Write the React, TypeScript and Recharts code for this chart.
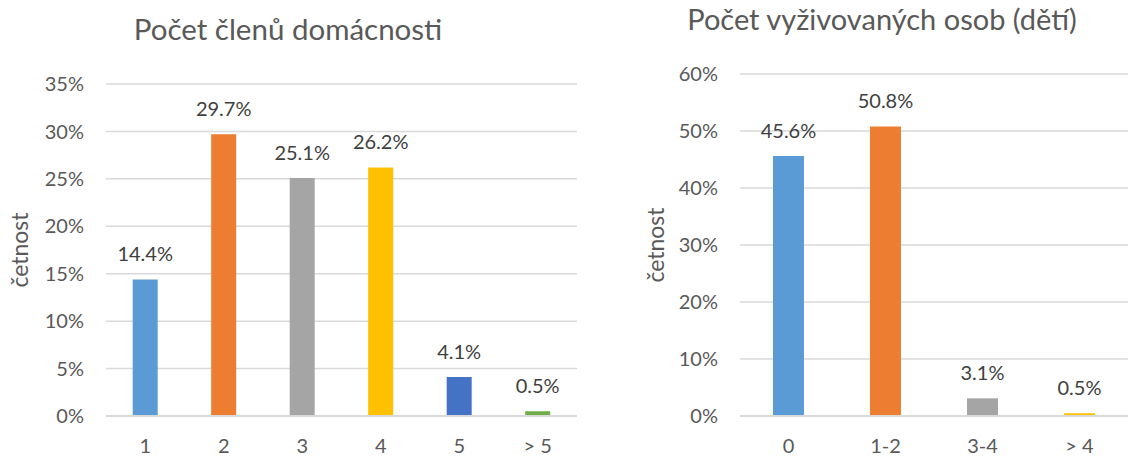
import { BarChart, Bar, XAxis, YAxis, CartesianGrid, Cell, LabelList } from 'recharts'

const householdSizes = ['1', '2', '3', '4', '5', '> 5']
const householdShare = [14.4, 29.7, 25.1, 26.2, 4.1, 0.5]
const householdColors = ['#5B9BD5', '#ED7D31', '#A5A5A5', '#FFC000', '#4472C4', '#70AD47']
const householdTicks = [0, 5, 10, 15, 20, 25, 30, 35]

const childCounts = ['0', '1-2', '3-4', '> 4']
const childShare = [45.6, 50.8, 3.1, 0.5]
const childColors = ['#5B9BD5', '#ED7D31', '#A5A5A5', '#FFC000']
const childTicks = [0, 10, 20, 30, 40, 50, 60]

const FONT = 'Lato, "Open Sans", sans-serif'
const TEXT = '#595959'
const GRID = '#D9D9D9'

interface PanelProps {
  title: string
  categories: string[]
  values: number[]
  colors: string[]
  ticks: number[]
  left: number
  width: number
  yAxisWidth: number
  marginRight: number
  plotTop: number
  titleTop: number
  titleCenter: number
  titleSize: number
  axisLabelX: number
}

function Panel(p: PanelProps) {
  const data = p.categories.map((name, i) => ({ name, value: p.values[i] }))
  const plotMid = (p.plotTop + 416) / 2

  return (
    <div style={{ position: 'absolute', left: p.left, top: 0, width: p.width, height: 457 }}>
      <BarChart
        width={p.width}
        height={457}
        data={data}
        barCategoryGap="34%"
        margin={{ top: p.plotTop, right: p.marginRight, left: 0, bottom: 11 }}
      >
        <CartesianGrid vertical={false} stroke={GRID} strokeWidth={1.5} />
        <XAxis
          dataKey="name"
          height={30}
          tickLine={false}
          tickSize={0}
          tickMargin={23}
          axisLine={{ stroke: GRID, strokeWidth: 2 }}
          tick={{ fontSize: 20, fill: TEXT, fontFamily: FONT }}
        />
        <YAxis
          width={p.yAxisWidth}
          domain={[p.ticks[0], p.ticks[p.ticks.length - 1]]}
          ticks={p.ticks}
          tickFormatter={(v: number) => `${v}%`}
          tickLine={false}
          tickSize={0}
          tickMargin={22}
          axisLine={false}
          tick={{ fontSize: 20, fill: TEXT, fontFamily: FONT }}
        />
        <Bar dataKey="value" isAnimationActive={false}>
          {data.map((d, i) => (
            <Cell key={d.name} fill={p.colors[i]} />
          ))}
          <LabelList
            dataKey="value"
            position="top"
            offset={18}
            formatter={(v: number) => `${v.toFixed(1)}%`}
            style={{ fontSize: 20, fill: '#404040', fontFamily: FONT }}
          />
        </Bar>
      </BarChart>
      <div
        style={{
          position: 'absolute',
          left: p.titleCenter - p.left - 300,
          width: 600,
          top: p.titleTop,
          textAlign: 'center',
          fontFamily: FONT,
          fontSize: p.titleSize,
          lineHeight: 1,
          color: TEXT,
          whiteSpace: 'nowrap',
        }}
      >
        {p.title}
      </div>
      <div
        style={{
          position: 'absolute',
          left: p.axisLabelX - p.left - 60,
          top: plotMid - 12,
          width: 120,
          height: 24,
          lineHeight: '24px',
          textAlign: 'center',
          transform: 'rotate(-90deg)',
          fontFamily: FONT,
          fontSize: 23,
          color: TEXT,
        }}
      >
        četnost
      </div>
    </div>
  )
}

export default function App() {
  return (
    <div style={{ position: 'absolute', left: 0, top: 0, width: 1130, height: 457, background: '#fff', overflow: 'hidden' }}>
      <Panel
        title="Počet členů domácnosti"
        categories={householdSizes}
        values={householdShare}
        colors={householdColors}
        ticks={householdTicks}
        left={0}
        width={577}
        yAxisWidth={106}
        marginRight={0}
        plotTop={84}
        titleTop={14}
        titleCenter={288}
        titleSize={29.5}
        axisLabelX={19}
      />
      <Panel
        title="Počet vyživovaných osob (dětí)"
        categories={childCounts}
        values={childShare}
        colors={childColors}
        ticks={childTicks}
        left={580}
        width={550}
        yAxisWidth={160}
        marginRight={2}
        plotTop={74}
        titleTop={4}
        titleCenter={882}
        titleSize={29}
        axisLabelX={655}
      />
    </div>
  )
}
